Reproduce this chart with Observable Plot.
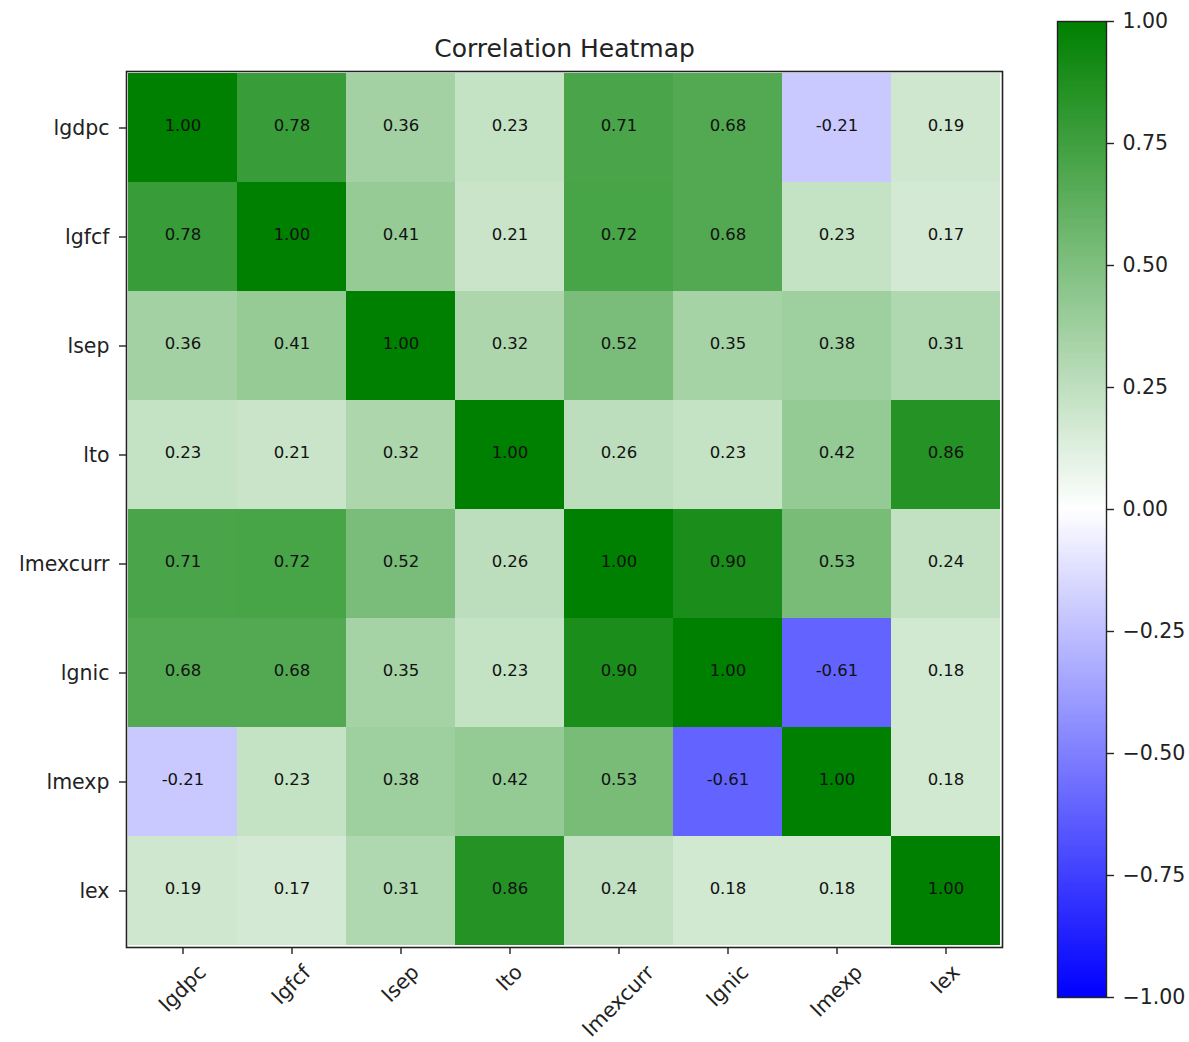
<!DOCTYPE html>
<html>
<head>
<meta charset="utf-8">
<script src="https://cdn.jsdelivr.net/npm/d3@7"></script>
<script src="https://cdn.jsdelivr.net/npm/@observablehq/plot@0.6"></script>
<style>
  html, body { margin: 0; padding: 0; background: white; }
  #wrap { position: relative; width: 1189px; height: 1042px; overflow: hidden; background: white; }
  #wrap svg { position: absolute; top: 0; }
</style>
</head>
<body>
<div id="wrap"></div>
<script>
// ---- data ----
const labels = ["lgdpc", "lgfcf", "lsep", "lto", "lmexcurr", "lgnic", "lmexp", "lex"];
const row_lgdpc    = [1.00, 0.78, 0.36, 0.23, 0.71, 0.68, -0.21, 0.19];
const row_lgfcf    = [0.78, 1.00, 0.41, 0.21, 0.72, 0.68, 0.23, 0.17];
const row_lsep     = [0.36, 0.41, 1.00, 0.32, 0.52, 0.35, 0.38, 0.31];
const row_lto      = [0.23, 0.21, 0.32, 1.00, 0.26, 0.23, 0.42, 0.86];
const row_lmexcurr = [0.71, 0.72, 0.52, 0.26, 1.00, 0.90, 0.53, 0.24];
const row_lgnic    = [0.68, 0.68, 0.35, 0.23, 0.90, 1.00, -0.61, 0.18];
const row_lmexp    = [-0.21, 0.23, 0.38, 0.42, 0.53, -0.61, 1.00, 0.18];
const row_lex      = [0.19, 0.17, 0.31, 0.86, 0.24, 0.18, 0.18, 1.00];
const colorbarTicks = [-1.00, -0.75, -0.50, -0.25, 0.00, 0.25, 0.50, 0.75, 1.00];
const titleText = "Correlation Heatmap";

const matrix = [row_lgdpc, row_lgfcf, row_lsep, row_lto, row_lmexcurr, row_lgnic, row_lmexp, row_lex];
const table = [];
matrix.forEach((r, i) => r.forEach((v, j) => table.push({row: labels[i], col: labels[j], value: v})));

const colorScale = {type: "linear", domain: [-1, 0, 1], range: ["#0000ff", "#ffffff", "#008000"], interpolate: "rgb"};
const FONT = "DejaVu Sans";
const W = 1189, H = 1042;
const mL = 126, mR = W - 1002, mT = 71, mB = H - 947;

const wrap = document.getElementById("wrap");

const main = Plot.plot({
  width: W, height: H,
  marginLeft: mL, marginRight: mR, marginTop: mT, marginBottom: mB,
  style: {fontFamily: FONT, fontSize: "20.5px", color: "#222", background: "white"},
  x: {type: "band", domain: labels, padding: 0, label: null},
  y: {type: "band", domain: labels, padding: 0, label: null},
  color: colorScale,
  marks: [
    Plot.cell(table, {x: "col", y: "row", fill: "value", inset: 0, shapeRendering: "crispEdges"}),
    Plot.text(table, {x: "col", y: "row", dy: -2, text: d => d.value.toFixed(2), fontSize: 16.5, fill: "#111", fontFamily: FONT}),
    Plot.frame({stroke: "#222", strokeWidth: 1.6}),
    Plot.axisY({tickSize: 7, tickPadding: 10, fontSize: 20.5, label: null, stroke: "#222", strokeWidth: 1.4}),
    Plot.axisX({tickSize: 7, tickPadding: 7, fontSize: 20.5, label: null, tickRotate: -45, textAnchor: "middle", stroke: "#222", strokeWidth: 1.4}),
    Plot.text([titleText], {frameAnchor: "top", lineAnchor: "bottom", dy: -15, fontSize: 25, fill: "#222", fontFamily: FONT})
  ]
});
main.style.left = "0px";
wrap.appendChild(main);

// place rotated x tick labels like matplotlib (bbox centred on tick, top below tick)
{
  const xs = main.scale("x");
  const svgRect = main.getBoundingClientRect();
  const targetTop = H - mB + 7 + 6;
  d3.select(main).selectAll('g[aria-label="x-axis tick label"] text').each(function() {
    const lab = this.textContent;
    const r = this.getBoundingClientRect();
    const cx = (r.left + r.right) / 2 - svgRect.left;
    const top = r.top - svgRect.top;
    const tx = xs.apply(lab) + (xs.bandwidth || 0) / 2;
    const dx = tx - cx, dy = targetTop - top;
    const t = this.getAttribute("transform") || "";
    this.setAttribute("transform", `translate(${dx},${dy}) ` + t);
  });
}

const cb = Plot.plot({
  width: 189, height: H,
  marginLeft: 57, marginRight: 189 - 106, marginTop: 21, marginBottom: H - 997,
  style: {fontFamily: FONT, fontSize: "20.5px", color: "#222", background: "transparent"},
  x: {domain: [0, 1], axis: null},
  y: {domain: [-1, 1], axis: null},
  color: colorScale,
  marks: [
    Plot.raster({fill: (x, y) => y, x1: 0, x2: 1, y1: -1, y2: 1, width: 1, height: 400, imageRendering: "auto"}),
    Plot.frame({stroke: "#222", strokeWidth: 1.4}),
    Plot.axisY({anchor: "right", ticks: colorbarTicks, tickFormat: d3.format(".2f"), tickSize: 7, tickPadding: 9, fontSize: 20.5, label: null, stroke: "#222", strokeWidth: 1.4})
  ]
});
cb.style.left = "1000px";
wrap.appendChild(cb);
</script>
</body>
</html>
